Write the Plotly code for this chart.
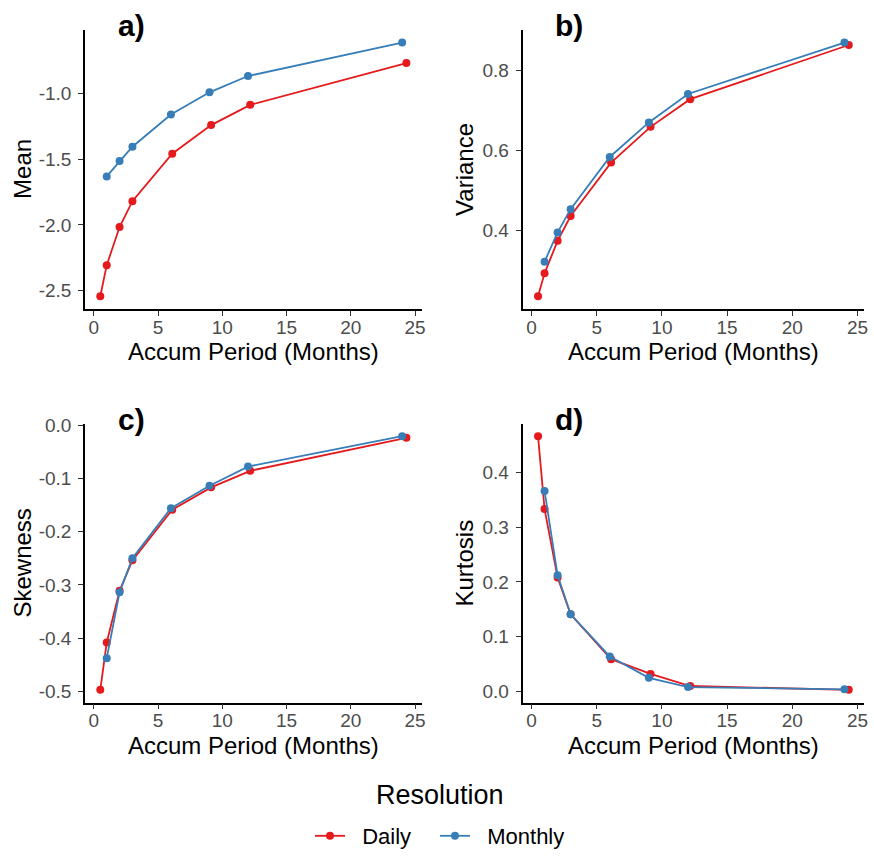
import plotly.graph_objects as go

# ---------------- data ----------------
x_daily = [0.5, 1, 2, 3, 6.1, 9.13, 12.17, 24.33]
x_monthly = [1, 2, 3, 6, 9, 12, 24]

mean_daily = [-2.542, -2.306, -2.016, -1.820, -1.459, -1.242, -1.088, -0.771]
mean_monthly = [-1.632, -1.515, -1.406, -1.162, -0.993, -0.869, -0.615]

var_daily = [0.237, 0.294, 0.375, 0.437, 0.570, 0.659, 0.728, 0.863]
var_monthly = [0.323, 0.396, 0.454, 0.584, 0.670, 0.741, 0.869]

skew_daily = [-0.497, -0.408, -0.311, -0.254, -0.159, -0.117, -0.086, -0.024]
skew_monthly = [-0.4375, -0.314, -0.250, -0.156, -0.114, -0.078, -0.021]

kurt_daily = [0.466, 0.333, 0.208, 0.141, 0.059, 0.032, 0.010, 0.003]
kurt_monthly = [0.366, 0.212, 0.141, 0.064, 0.025, 0.008, 0.004]

x_tickvals = [0, 5, 10, 15, 20, 25]
x_ticktext = ["0", "5", "10", "15", "20", "25"]

mean_tickvals = [-2.5, -2.0, -1.5, -1.0]
mean_ticktext = ["-2.5", "-2.0", "-1.5", "-1.0"]
var_tickvals = [0.4, 0.6, 0.8]
var_ticktext = ["0.4", "0.6", "0.8"]
skew_tickvals = [-0.5, -0.4, -0.3, -0.2, -0.1, 0.0]
skew_ticktext = ["-0.5", "-0.4", "-0.3", "-0.2", "-0.1", "0.0"]
kurt_tickvals = [0.0, 0.1, 0.2, 0.3, 0.4]
kurt_ticktext = ["0.0", "0.1", "0.2", "0.3", "0.4"]

panel_labels = ["a)", "b)", "c)", "d)"]
y_titles = ["Mean", "Variance", "Skewness", "Kurtosis"]
x_title = "Accum Period (Months)"
series_names = ["Daily", "Monthly"]
legend_title = "Resolution"

# ---------------- styling ----------------
W, H = 874, 857
FONT = "Liberation Sans"
RED = "#E41A1C"
BLUE = "#377EB8"
NB = "\u00a0\u00a0"   # small gap between legend symbol and text


def px_x(p):
    return p / W


def px_y(p):
    return 1 - p / H


def expand(*arrs, frac=0.05):
    vals = [v for a in arrs for v in a]
    lo, hi = min(vals), max(vals)
    d = (hi - lo) * frac
    return [lo - d, hi + d]


# panel pixel boxes: (left, right, top, bottom)
boxes = [
    (85, 421.7, 30, 310),
    (522.5, 864.3, 30, 310),
    (85, 421.7, 425, 705),
    (522.5, 864.3, 425, 705),
]
ytitle_offsets = [62.5, 58, 62.5, 58]

panels = [
    (mean_daily, mean_monthly, mean_tickvals, mean_ticktext),
    (var_daily, var_monthly, var_tickvals, var_ticktext),
    (skew_daily, skew_monthly, skew_tickvals, skew_ticktext),
    (kurt_daily, kurt_monthly, kurt_tickvals, kurt_ticktext),
]

fig = go.Figure()
xr = expand(x_daily, x_monthly)

axis_common = dict(
    showline=True, linecolor="black", linewidth=1.6,
    ticks="outside", ticklen=5, tickwidth=1.3, tickcolor="#333333",
    showgrid=False, zeroline=False, automargin=False,
    tickfont=dict(family=FONT, size=19, color="#4D4D4D"),
)

annotations = []
for i, ((yd, ym, tv, tt), (l, r, t, b)) in enumerate(zip(panels, boxes)):
    n = "" if i == 0 else str(i + 1)
    xa, ya = "x" + n, "y" + n
    fig.add_trace(go.Scatter(
        x=x_daily, y=yd, mode="lines+markers", name=NB + series_names[0],
        legendgroup="d", showlegend=(i == 0), legendwidth=80,
        line=dict(color=RED, width=1.8), marker=dict(color=RED, size=8),
        xaxis=xa, yaxis=ya,
    ))
    fig.add_trace(go.Scatter(
        x=x_monthly, y=ym, mode="lines+markers", name=NB + series_names[1],
        legendgroup="m", showlegend=(i == 0), legendwidth=100,
        line=dict(color=BLUE, width=1.8), marker=dict(color=BLUE, size=8),
        xaxis=xa, yaxis=ya,
    ))
    fig.layout["xaxis" + n] = dict(
        axis_common, domain=[px_x(l), px_x(r)], range=xr, anchor=ya,
        tickvals=x_tickvals, ticktext=x_ticktext, ticklabelstandoff=-5,
    )
    fig.layout["yaxis" + n] = dict(
        axis_common, domain=[px_y(b), px_y(t)], range=expand(yd, ym), anchor=xa,
        tickvals=tv, ticktext=tt, ticklabelstandoff=3,
    )
    # panel label
    annotations.append(dict(
        text="<b>%s</b>" % panel_labels[i], xref="paper", yref="paper",
        x=px_x(l + 46), y=px_y(t - 4), xanchor="center", yanchor="middle",
        showarrow=False, font=dict(family=FONT, size=30, color="black"),
    ))
    # x title
    annotations.append(dict(
        text=x_title, xref="paper", yref="paper",
        x=px_x((l + r) / 2), y=px_y(b + 43), xanchor="center", yanchor="middle",
        showarrow=False, font=dict(family=FONT, size=24, color="black"),
    ))
    # y title
    annotations.append(dict(
        text=y_titles[i], xref="paper", yref="paper", textangle=-90,
        x=px_x(l - ytitle_offsets[i]), y=px_y((t + b) / 2),
        xanchor="center", yanchor="middle",
        showarrow=False, font=dict(family=FONT, size=24, color="black"),
    ))

# legend title
annotations.append(dict(
    text=legend_title, xref="paper", yref="paper",
    x=px_x(440), y=px_y(798), xanchor="center", yanchor="middle",
    showarrow=False, font=dict(family=FONT, size=27, color="black"),
))

fig.update_layout(
    width=W, height=H,
    margin=dict(l=0, r=0, t=0, b=0, pad=0),
    paper_bgcolor="white", plot_bgcolor="white",
    font=dict(family=FONT, color="black"),
    annotations=annotations,
    showlegend=True,
    legend=dict(
        orientation="h", x=px_x(310), xanchor="left",
        y=px_y(839), yanchor="middle",
        font=dict(family=FONT, size=22, color="black"),
        bgcolor="rgba(0,0,0,0)",
    ),
)

fig.write_html(
    "out.html",
    config={"displayModeBar": False},
    post_script="document.body.style.margin='0';document.body.style.overflow='hidden';",
)
